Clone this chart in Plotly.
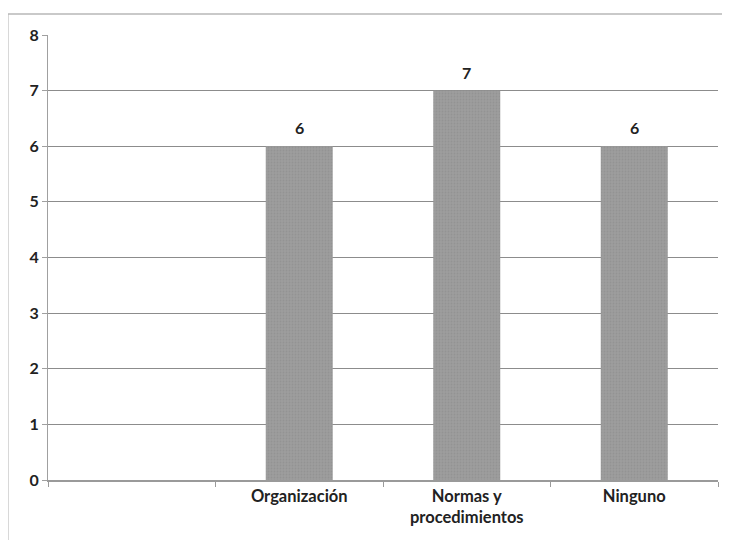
import plotly.graph_objects as go

categories = [" ", "Organización", "Normas y<br>procedimientos", "Ninguno"]
values = [None, 6, 7, 6]
value_labels = ["", "6", "7", "6"]
y_ticks = [0, 1, 2, 3, 4, 5, 6, 7, 8]

FONT = "Lato"

fig = go.Figure()
fig.add_trace(go.Bar(
    x=categories,
    y=values,
    marker=dict(color="#9d9d9d", line=dict(width=0),
                pattern=dict(shape=".", fgcolor="#8a8a8a", size=3, solidity=0.3)),
    width=0.4,
    showlegend=False,
))

for c, v, t in zip(categories, values, value_labels):
    if v is None:
        continue
    fig.add_annotation(x=c, y=v, text=t, showarrow=False, yanchor="bottom",
                       yshift=7,
                       font=dict(family=FONT, size=16, color="#222222", weight="bold"))

fig.update_layout(
    width=730, height=540,
    margin=dict(l=40, r=20, t=27, b=68),
    paper_bgcolor="white",
    plot_bgcolor="white",
    font=dict(family=FONT, size=14, color="#222222"),
    shapes=[dict(type="rect", xref="paper", yref="paper",
                 x0=-0.06, x1=1.013, y0=-0.2, y1=1.047,
                 line=dict(color="#b8b8b8", width=1.5))],
)
fig.update_xaxes(
    type="category",
    categoryorder="array", categoryarray=categories,
    showline=True, linecolor="#9a9a9a", linewidth=1.5,
    ticks="outside", tickson="boundaries", ticklen=5, tickcolor="#9a9a9a",
    tickfont=dict(family=FONT, size=16.5, color="#222222", weight="bold"),
    showgrid=False,
)
fig.update_yaxes(
    range=[0, 8], tickvals=y_ticks,
    showline=True, linecolor="#a0a0a0", linewidth=1,
    ticks="outside", ticklen=5, tickcolor="#a0a0a0",
    gridcolor="#8c8c8c", gridwidth=1.2,
    tickfont=dict(family=FONT, size=16, color="#222222", weight="bold"),
    zeroline=False,
)

fig.write_html("out.html")
